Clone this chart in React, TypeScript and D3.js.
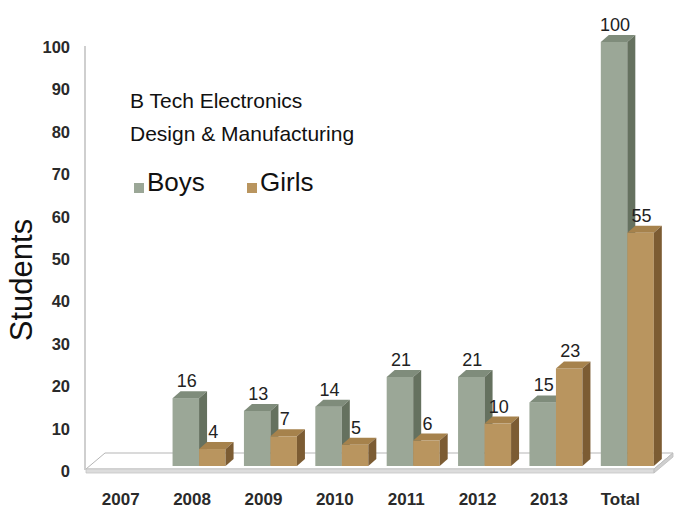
import React from "react";
import * as d3 from "d3";

const categories = ["2007", "2008", "2009", "2010", "2011", "2012", "2013", "Total"];
const boys: (number | null)[] = [null, 16, 13, 14, 21, 21, 15, 100];
const girls: (number | null)[] = [null, 4, 7, 5, 6, 10, 23, 55];
const seriesNames = ["Boys", "Girls"];
const yTicks = [0, 10, 20, 30, 40, 50, 60, 70, 80, 90, 100];
const titleLines = ["B Tech Electronics", "Design & Manufacturing"];
const yTitle = "Students";

const W = 674;
const H = 511;

const colors = {
  Boys: { front: "#9ba797", top: "#7f8c7b", side: "#65715f" },
  Girls: { front: "#b9955f", top: "#a6824c", side: "#7c5c33" },
};

export default function App() {
  const y = d3.scaleLinear().domain([0, 100]).range([466, 42]);
  const x0 = d3.scaleBand().domain(categories).range([92, 663]).padding(0);
  const barW = 26.5;
  const x1 = d3
    .scaleBand()
    .domain(seriesNames)
    .range([x0.bandwidth() / 2 - barW, x0.bandwidth() / 2 + barW])
    .padding(0);
  const dx = 8;
  const dy = -7;
  const y0 = y(0);
  const font = "'Liberation Sans', Arial, Helvetica, sans-serif";
  const textCol = "#222";

  // floor
  const fl = { x0: 86, x1: 654, yf: 469, dx: 19, dy: -16, th: 4 };

  const bar = (cat: string, s: "Boys" | "Girls", v: number | null) => {
    if (v == null) return null;
    const bx = (x0(cat) as number) + (x1(s) as number);
    const w = x1.bandwidth();
    const yt = y(v);
    const c = colors[s];
    return (
      <g key={cat + s}>
        <rect x={bx} y={yt} width={w} height={y0 - yt} fill={c.front} />
        <polygon
          points={`${bx},${yt} ${bx + dx},${yt + dy} ${bx + w + dx},${yt + dy} ${bx + w},${yt}`}
          fill={c.top}
        />
        <polygon
          points={`${bx + w},${yt} ${bx + w + dx},${yt + dy} ${bx + w + dx},${y0 + dy} ${bx + w},${y0}`}
          fill={c.side}
        />
        <text
          x={bx + w / 2 + 1}
          y={yt - 11}
          textAnchor="middle"
          fontFamily={font}
          fontSize={18}
          fill={textCol}
        >
          {v}
        </text>
      </g>
    );
  };

  return (
    <svg
      width={W}
      height={H}
      style={{ position: "absolute", left: 0, top: 0, background: "#fff" }}
    >
      {/* y axis line */}
      <line x1={85} x2={85} y1={46} y2={470} stroke="#cfcfcf" strokeWidth={2} />
      {/* floor */}
      <polygon
        points={`${fl.x0},${fl.yf} ${fl.x0 + fl.dx},${fl.yf + fl.dy} ${fl.x1 + fl.dx},${fl.yf + fl.dy} ${fl.x1},${fl.yf}`}
        fill="#fff"
        stroke="#b5b5b5"
        strokeWidth={1}
      />
      <polygon
        points={`${fl.x0},${fl.yf} ${fl.x1},${fl.yf} ${fl.x1},${fl.yf + fl.th} ${fl.x0},${fl.yf + fl.th}`}
        fill="#dcdcdc"
        stroke="#c4c4c4"
        strokeWidth={0.8}
      />
      <polygon
        points={`${fl.x1},${fl.yf} ${fl.x1 + fl.dx},${fl.yf + fl.dy} ${fl.x1 + fl.dx},${fl.yf + fl.dy + fl.th} ${fl.x1},${fl.yf + fl.th}`}
        fill="#cfcfcf"
        stroke="#bdbdbd"
        strokeWidth={0.8}
      />
      {/* y tick labels */}
      {yTicks.map((t) => (
        <text
          key={t}
          x={70}
          y={y(t) + 5}
          textAnchor="end"
          dominantBaseline="central"
          fontFamily={font}
          fontWeight="bold"
          fontSize={16.5}
          fill="#2a2a2a"
        >
          {t}
        </text>
      ))}
      {/* bars */}
      {categories.map((c, i) => (
        <g key={c}>
          {bar(c, "Boys", boys[i])}
          {bar(c, "Girls", girls[i])}
        </g>
      ))}
      {/* x labels */}
      {categories.map((c) => (
        <text
          key={c}
          x={(x0(c) as number) + x0.bandwidth() / 2 - 7}
          y={499}
          textAnchor="middle"
          dominantBaseline="central"
          fontFamily={font}
          fontWeight="bold"
          fontSize={17}
          fill="#2a2a2a"
        >
          {c}
        </text>
      ))}
      {/* title */}
      {titleLines.map((t, i) => (
        <text key={t} x={130} y={108 + i * 33} fontFamily={font} fontSize={21} fill="#111">
          {t}
        </text>
      ))}
      {/* legend */}
      {seriesNames.map((s, i) => {
        const lx = [134, 247][i];
        return (
          <g key={s}>
            <rect x={lx} y={183} width={10} height={10} fill={colors[s as "Boys" | "Girls"].front} />
            <text x={lx + 13} y={191} fontFamily={font} fontSize={26} fill="#111">
              {s}
            </text>
          </g>
        );
      })}
      {/* y title */}
      <text
        transform={`translate(32,280) rotate(-90)`}
        textAnchor="middle"
        fontFamily={font}
        fontSize={31}
        fill="#111"
      >
        {yTitle}
      </text>
    </svg>
  );
}
